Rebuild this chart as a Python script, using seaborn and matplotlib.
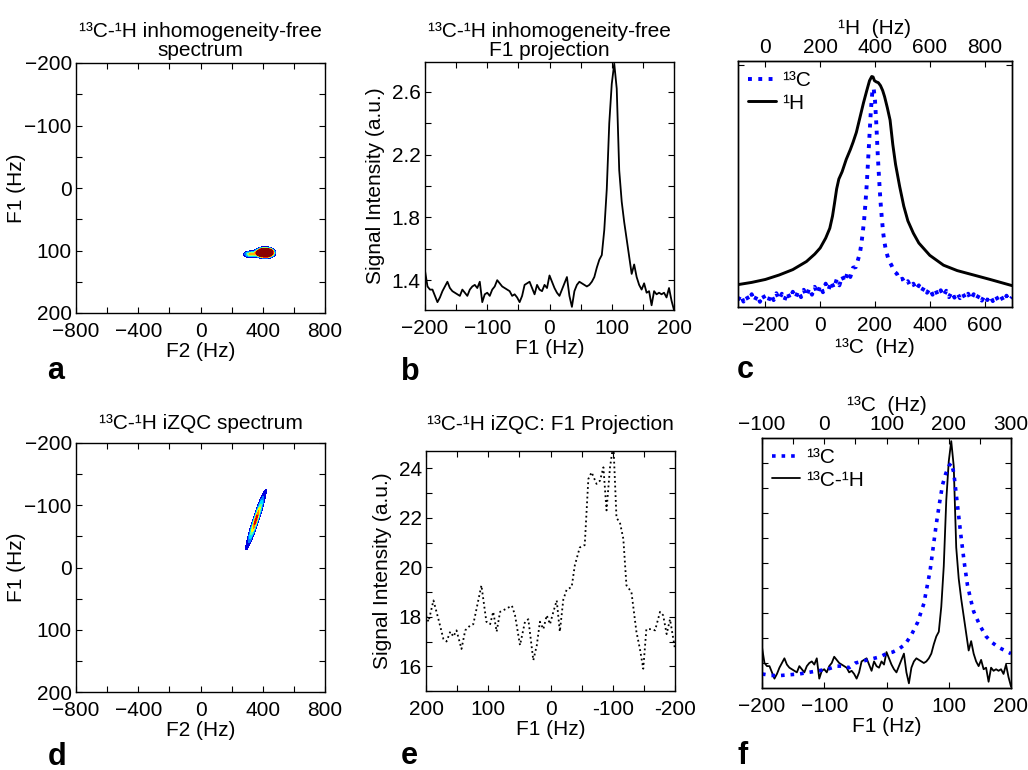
import numpy as np
import matplotlib
matplotlib.use("Agg")
import matplotlib.pyplot as plt
from matplotlib.ticker import MultipleLocator, NullFormatter, FixedLocator
import seaborn as sns

# ---------------- data ----------------
# panel b / f : 13C-1H inhomogeneity-free F1 projection
b_f1 = [-200, -196, -192, -188, -184, -180, -176, -172, -168, -164, -160, -156, -152, -148,
        -144, -140, -136, -132, -128, -124, -120, -116, -112, -108, -104, -100, -96, -92,
        -88, -84, -80, -76, -72, -68, -64, -60, -56, -52, -48, -44, -40, -36, -32, -28,
        -24, -20, -16, -12, -8, -4, 0, 4, 8, 12, 16, 20, 24, 28, 32, 36, 40, 44, 48, 52,
        56, 60, 64, 68, 72, 76, 80, 84, 88, 92, 96, 100, 104, 108, 112, 116, 120, 124, 128,
        132, 136, 140, 144, 148, 152, 156, 160, 164, 168, 172, 176, 180, 184, 188, 192, 196, 200]
b_int = [1.46, 1.36, 1.34, 1.34, 1.30, 1.26, 1.29, 1.33, 1.36, 1.39, 1.35, 1.33, 1.32, 1.31,
         1.30, 1.34, 1.32, 1.30, 1.34, 1.36, 1.37, 1.35, 1.39, 1.26, 1.31, 1.32, 1.30, 1.34,
         1.36, 1.40, 1.38, 1.36, 1.35, 1.34, 1.33, 1.30, 1.31, 1.29, 1.26, 1.30, 1.37, 1.38,
         1.39, 1.35, 1.31, 1.37, 1.34, 1.33, 1.37, 1.35, 1.43, 1.39, 1.35, 1.32, 1.30, 1.34,
         1.38, 1.42, 1.30, 1.23, 1.33, 1.37, 1.39, 1.38, 1.37, 1.36, 1.37, 1.39, 1.42, 1.48,
         1.53, 1.56, 1.72, 1.98, 2.40, 2.65, 2.78, 2.62, 2.10, 1.90, 1.77, 1.66, 1.55, 1.44,
         1.50, 1.42, 1.37, 1.34, 1.38, 1.32, 1.33, 1.24, 1.33, 1.31, 1.32, 1.31, 1.32, 1.29,
         1.35, 1.27, 1.21]

# panel e : iZQC F1 projection
e_f1 = [200, 196, 188, 180, 172, 167, 161, 156, 151, 143, 137, 129, 124, 119, 111, 103, 97,
        92, 86.5, 81, 73, 62, 57, 49, 41, 35.6, 27.6, 22, 17, 11.5, 6, 0.8, -4.6, -10, -15,
        -20.6, -26, -34, -39, -47, -55, -60.8, -66, -74, -79.5, -85, -90, -95.6, -101, -106,
        -111.6, -117, -122, -130, -138, -144, -149, -154, -162.5, -168, -176, -181, -186.6,
        -192, -200]
e_int = [18.06, 17.8, 18.66, 17.9, 17.1, 17.0, 17.4, 17.2, 17.45, 16.7, 17.45, 17.65, 17.7,
         18.3, 19.27, 17.8, 17.7, 18.2, 17.4, 18.2, 18.3, 18.45, 18.06, 16.85, 17.8, 17.9,
         16.24, 16.85, 17.8, 17.5, 18.06, 17.7, 18.2, 18.66, 17.4, 18.7, 19.1, 19.2, 20.07,
         20.8, 20.9, 23.57, 23.84, 23.37, 23.5, 24.04, 22.3, 24.04, 25.0, 22.0, 21.8, 21.15,
         19.27, 19.0, 17.4, 16.65, 15.9, 17.5, 17.5, 17.45, 18.2, 18.06, 17.3, 17.9, 16.7]

# panel c : 1D 13C and 1H spectra (normalised)
c_c13_hz = [-300, -290, -280, -270, -260, -250, -240, -230, -220, -210, -200, -190, -180,
            -170, -160, -150, -140, -130, -120, -110, -100, -90, -80, -70, -60, -50, -40,
            -30, -20, -10, 0, 10, 20, 30, 40, 50, 60, 70, 80, 90, 100, 110, 120, 130, 140,
            145, 150, 155, 160, 165, 170, 175, 180, 185, 190, 195, 200, 205, 210, 215, 220,
            225, 230, 235, 240, 245, 250, 260, 270, 280, 290, 300, 310, 320, 330, 340, 350,
            360, 370, 380, 390, 400, 410, 420, 430, 440, 450, 460, 470, 480, 490, 500, 510,
            520, 530, 540, 550, 560, 570, 580, 590, 600, 610, 620, 630, 640, 650, 660, 670,
            680, 690, 700]
c_c13_int = [.028, .050, .022, .046, .026, .052, .024, .048, .021, .050, .030, .020, .052,
             .028, .056, .030, .054, .028, .060, .034, .062, .037, .066, .040, .070, .044,
             .076, .050, .082, .054, .088, .060, .095, .068, .104, .076, .112, .088, .126,
             .102, .142, .122, .160, .162, .200,
             .22, .255, .30, .35, .42, .50, .60, .70, .80, .87, .89, .84, .74, .62, .52, .43,
             .36, .30, .26, .23, .21, .19,
             .170, .145, .135, .110, .115, .095, .105, .082, .095, .070, .088, .062, .082,
             .058, .076, .050, .072, .046, .068, .044, .066, .040, .062, .038, .058, .036,
             .056, .034, .054, .030, .052, .030, .050, .026, .048, .028, .046, .024, .047,
             .026, .044, .022, .046, .025, .040]
c_h1_hz = [-100, -50, 0, 50, 100, 150, 180, 200, 220, 235, 245, 252, 260, 268, 280, 295, 310,
           320, 332, 345, 358, 370, 380, 388, 393, 398, 405, 412, 420, 428, 435, 445, 455,
           465, 475, 490, 505, 520, 540, 560, 600, 650, 700, 760, 820, 900]
c_h1_int = [.091, .100, .112, .130, .152, .185, .215, .24, .28, .32, .37, .42, .48, .52, .55,
            .60, .64, .67, .71, .77, .83, .88, .92, .937, .935, .92, .915, .912, .90, .88,
            .855, .81, .76, .66, .58, .49, .41, .35, .30, .26, .21, .17, .148, .13, .112, .087]

# panel f : 13C 1D spectrum (top axis, Hz)
f_c13_hz = [-100, -85, -70, -55, -40, -25, -10, 5, 20, 30, 40, 50, 60, 70, 80, 90, 100, 110,
            120, 130, 140, 150, 160, 170, 175, 180, 185, 190, 195, 200, 204, 208, 212, 216,
            220, 225, 230, 235, 240, 250, 260, 270, 280, 290, 300]
f_c13_int = [1.29, 1.28, 1.28, 1.285, 1.29, 1.30, 1.31, 1.32, 1.34, 1.34, 1.33, 1.36, 1.37,
             1.38, 1.39, 1.40, 1.42, 1.43, 1.45, 1.48, 1.54, 1.62, 1.74, 1.95, 2.10, 2.25,
             2.38, 2.50, 2.57, 2.62, 2.64, 2.58, 2.44, 2.30, 2.16, 2.00, 1.86, 1.77, 1.69,
             1.60, 1.53, 1.49, 1.46, 1.44, 1.42]

# 2D peak descriptions (centre F2, centre F1, width F2, width F1, amplitude)
a_peak_f2 = [415, 322]
a_peak_f1 = [103.5, 106]
a_peak_w2 = [28.6, 30.0]
a_peak_w1 = [3.9, 3.4]
a_peak_amp = [1.0, 0.16]
a_levels = [0.05, 0.075, 0.10, 0.13, 0.16, 0.19, 0.22, 10]
a_colors = ['#0000d8', '#0070ff', '#00d0ff', '#a0ff60', '#ffb000', '#ff2000', '#8a0000']

d_start = [286, -23]   # (F2, F1) lower end of the ridge
d_end = [414, -121]    # upper end
d_centre_frac = 0.55
d_sigma_along = 0.055
d_sigma_perp = 0.0052
d_levels = [0.07, 0.2, 0.35, 0.5, 0.65, 0.8, 0.94, 1.01]
d_colors = ['#0000e0', '#0080ff', '#00e0ff', '#60ff9f', '#ffff00', '#ff8000', '#e00000']

titles = ['¹³C-¹H inhomogeneity-free\nspectrum', '¹³C-¹H inhomogeneity-free\nF1 projection',
          '¹³C-¹H iZQC spectrum', '¹³C-¹H iZQC: F1 Projection']
e_ticks = [200, 100, 0, -100, -200]
e_ticklabels = ['200', '100', '0', '-100', '-200']

# ---------------- style ----------------
sns.set_theme(style="white")
plt.rcParams['font.family'] = ['Liberation Sans', 'DejaVu Sans']
plt.rcParams.update({
    'axes.edgecolor': 'black', 'axes.linewidth': 1.0,
    'xtick.direction': 'in', 'ytick.direction': 'in',
    'xtick.bottom': True, 'ytick.left': True,
    'xtick.major.size': 4, 'ytick.major.size': 4,
    'xtick.minor.size': 4, 'ytick.minor.size': 4,
    'xtick.major.width': 0.8, 'ytick.major.width': 0.8,
    'xtick.minor.width': 0.8, 'ytick.minor.width': 0.8,
    'xtick.color': 'black', 'ytick.color': 'black',
    'xtick.labelsize': 15, 'ytick.labelsize': 15, 'axes.labelsize': 15,
    'axes.labelcolor': 'black', 'text.color': 'black',
    'xtick.major.pad': 6.5, 'ytick.major.pad': 3,
    'axes.titlesize': 15,
})

W, H = 1028, 770


def pos(l, t, r, b):
    return [l / W, 1 - b / H, (r - l) / W, (b - t) / H]


def boxticks(ax):
    ax.tick_params(which='both', top=True, right=True, direction='in')


fig = plt.figure(figsize=(W / 100, H / 100), dpi=100)

# ---------------- panel a ----------------
ax_a = fig.add_axes(pos(76, 63, 325, 313))
g2 = np.linspace(-800, 800, 1281)
g1 = np.linspace(-200, 200, 801)
X, Y = np.meshgrid(g2, g1)
Za = np.zeros_like(X)
for c2, c1, w2, w1, am in zip(a_peak_f2, a_peak_f1, a_peak_w2, a_peak_w1, a_peak_amp):
    Za += am * np.exp(-0.5 * ((X - c2) / w2) ** 2 - 0.5 * ((Y - c1) / w1) ** 2)
ax_a.contourf(X, Y, Za, levels=a_levels, colors=a_colors)
ax_a.set_xlim(-800, 800)
ax_a.set_ylim(200, -200)
ax_a.xaxis.set_major_locator(MultipleLocator(400))
ax_a.xaxis.set_minor_locator(MultipleLocator(200))
ax_a.yaxis.set_major_locator(MultipleLocator(100))
ax_a.yaxis.set_minor_locator(MultipleLocator(50))
boxticks(ax_a)
ax_a.set_xlabel('F2 (Hz)', labelpad=1)
ax_a.set_ylabel('F1 (Hz)', labelpad=-1)
ax_a.set_title(titles[0], pad=5, linespacing=1.0)

# ---------------- panel b ----------------
ax_b = fig.add_axes(pos(425, 62, 674, 310))
sns.lineplot(x=b_f1, y=b_int, ax=ax_b, color='black', lw=1.3, estimator=None, sort=False)
ax_b.set_xlim(-200, 200)
ax_b.set_ylim(1.21, 2.79)
ax_b.xaxis.set_major_locator(MultipleLocator(100))
ax_b.xaxis.set_minor_locator(MultipleLocator(50))
ax_b.yaxis.set_major_locator(FixedLocator([1.4, 1.8, 2.2, 2.6]))
ax_b.yaxis.set_minor_locator(FixedLocator([1.6, 2.0, 2.4]))
boxticks(ax_b)
ax_b.set_xlabel('F1 (Hz)', labelpad=1)
ax_b.set_ylabel('Signal Intensity (a.u.)', labelpad=5)
ax_b.set_title(titles[1], pad=4, linespacing=1.0)

# ---------------- panel c ----------------
ax_c = fig.add_axes(pos(738, 61, 1012, 307))
sns.lineplot(x=c_c13_hz, y=c_c13_int, ax=ax_c, color='#0000ff', lw=2.8, ls=':',
             estimator=None, sort=False, label='¹³C')
ax_c.set_xlim(-300, 700)
ax_c.set_ylim(0, 1)
ax_c.xaxis.set_major_locator(MultipleLocator(200))
ax_c.set_yticks([0.985])
ax_c.yaxis.set_major_formatter(NullFormatter())
ax_c.tick_params(which='both', top=False, right=True, direction='in')
ax_c.set_xlabel('¹³C  (Hz)', labelpad=2)
ax_c2 = ax_c.twiny()
sns.lineplot(x=c_h1_hz, y=c_h1_int, ax=ax_c2, color='black', lw=2.1,
             estimator=None, sort=False, label='¹H')
ax_c2.set_xlim(-100, 900)
ax_c2.xaxis.set_major_locator(MultipleLocator(200))
ax_c2.tick_params(which='both', direction='in', labelsize=15, pad=3)
ax_c2.set_xlabel('¹H  (Hz)', labelpad=3)
ax_c2.set_ylim(0, 1)
h1, l1 = ax_c.get_legend_handles_labels()
h2, l2 = ax_c2.get_legend_handles_labels()
if ax_c.get_legend():
    ax_c.get_legend().remove()
ax_c2.legend(h1 + h2, l1 + l2, loc='upper left', frameon=False, fontsize=15,
             handlelength=1.3, handletextpad=0.3, labelspacing=0.15,
             borderaxespad=0.3, borderpad=0.2)

# ---------------- panel d ----------------
ax_d = fig.add_axes(pos(76, 443, 325, 692))
u0, v0 = d_start[0] / 1600, d_start[1] / 400
u1, v1 = d_end[0] / 1600, d_end[1] / 400
du_, dv_ = u1 - u0, v1 - v0
L = np.hypot(du_, dv_)
e0, e1 = du_ / L, dv_ / L
uc = u0 + d_centre_frac * du_
vc = v0 + d_centre_frac * dv_
U = X / 1600 - uc
V = Y / 400 - vc
along = U * e0 + V * e1
perp = -U * e1 + V * e0
Zd = np.exp(-0.5 * (along / d_sigma_along) ** 2 - 0.5 * (perp / d_sigma_perp) ** 2)
ax_d.contourf(X, Y, Zd, levels=d_levels, colors=d_colors)
ax_d.set_xlim(-800, 800)
ax_d.set_ylim(200, -200)
ax_d.xaxis.set_major_locator(MultipleLocator(400))
ax_d.xaxis.set_minor_locator(MultipleLocator(200))
ax_d.yaxis.set_major_locator(MultipleLocator(100))
ax_d.yaxis.set_minor_locator(MultipleLocator(50))
boxticks(ax_d)
ax_d.set_xlabel('F2 (Hz)', labelpad=1)
ax_d.set_ylabel('F1 (Hz)', labelpad=-1)
ax_d.set_title(titles[2], pad=10)

# ---------------- panel e ----------------
ax_e = fig.add_axes(pos(426, 451, 675, 691))
sns.lineplot(x=e_f1, y=e_int, ax=ax_e, color='black', lw=1.3, ls=':',
             estimator=None, sort=False)
ax_e.set_xlim(200, -200)
ax_e.set_ylim(15, 24.7)
ax_e.set_xticks(e_ticks)
ax_e.set_xticklabels(e_ticklabels)
ax_e.xaxis.set_minor_locator(MultipleLocator(50))
ax_e.yaxis.set_major_locator(FixedLocator([16, 18, 20, 22, 24]))
ax_e.yaxis.set_minor_locator(FixedLocator([15, 17, 19, 21, 23]))
boxticks(ax_e)
ax_e.set_xlabel('F1 (Hz)', labelpad=1)
ax_e.set_ylabel('Signal Intensity (a.u.)', labelpad=5)
ax_e.set_title(titles[3], pad=15)

# ---------------- panel f ----------------
ax_f = fig.add_axes(pos(762, 438, 1011, 688))
sns.lineplot(x=b_f1, y=b_int, ax=ax_f, color='black', lw=1.3,
             estimator=None, sort=False, label='¹³C-¹H')
ax_f.set_xlim(-200, 200)
ax_f.set_ylim(1.2, 2.8)
ax_f.xaxis.set_major_locator(MultipleLocator(100))
ax_f.set_yticks([1.36, 1.52, 1.68, 1.84, 2.0, 2.16, 2.32, 2.48, 2.64])
ax_f.yaxis.set_major_formatter(NullFormatter())
ax_f.tick_params(which='both', top=False, right=True, direction='in')
ax_f.set_xlabel('F1 (Hz)', labelpad=1)
ax_f2 = ax_f.twiny()
sns.lineplot(x=f_c13_hz, y=f_c13_int, ax=ax_f2, color='#0000ff', lw=2.6, ls=':',
             estimator=None, sort=False, label='¹³C')
ax_f2.set_xlim(-100, 300)
ax_f2.set_ylim(1.2, 2.8)
ax_f2.xaxis.set_major_locator(MultipleLocator(100))
ax_f2.xaxis.set_minor_locator(MultipleLocator(50))
ax_f2.tick_params(which='both', direction='in', labelsize=15, pad=3)
ax_f2.set_xlabel('¹³C  (Hz)', labelpad=3)
h1, l1 = ax_f.get_legend_handles_labels()
h2, l2 = ax_f2.get_legend_handles_labels()
if ax_f.get_legend():
    ax_f.get_legend().remove()
ax_f2.legend(h2 + h1, l2 + l1, loc='upper left', frameon=False, fontsize=15,
             handlelength=1.3, handletextpad=0.3, labelspacing=0.15,
             borderaxespad=0.3, borderpad=0.2)

for ax in [ax_a, ax_b, ax_c, ax_d, ax_e, ax_f, ax_c2, ax_f2]:
    for s in ax.spines.values():
        s.set_color('black')
        s.set_linewidth(1.0)

# ---------------- panel letters ----------------
letters = ['a', 'b', 'c', 'd', 'e', 'f']
letter_xy = [(47, 379), (401, 380), (737, 378), (48, 765), (401, 764), (737, 764)]
for let, (x, y) in zip(letters, letter_xy):
    fig.text(x / W, 1 - y / H, let, fontsize=22, fontweight='bold', va='baseline', ha='left')

fig.savefig('out.png', dpi=100)
